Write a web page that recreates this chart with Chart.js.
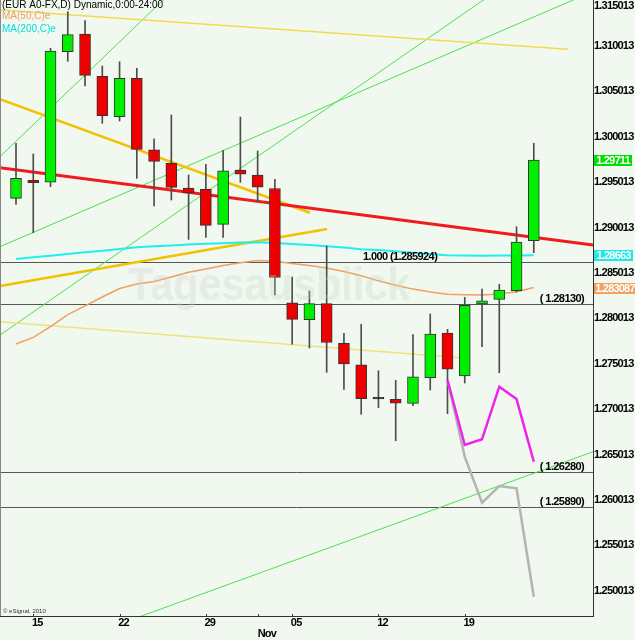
<!DOCTYPE html>
<html>
<head>
<meta charset="utf-8">
<script src="https://cdn.jsdelivr.net/npm/chart.js@4.4.0/dist/chart.umd.min.js"></script>
<style>
  html, body { margin: 0; padding: 0; background: #f0f8f0; }
  #wrap { width: 635px; height: 640px; }
</style>
</head>
<body>
<div id="wrap"><canvas id="chart" width="635" height="640"></canvas></div>
<script>
// EUR daily candles, one per trading day (Oct 14 .. Nov 25)
const opens  = [1.29291, 1.29489, 1.29470, 1.30905, 1.31100, 1.30634, 1.30190, 1.30612, 1.29826, 1.29676,
                1.29404, 1.29390, 1.29004, 1.29603, 1.29547, 1.29399, 1.28141, 1.27954, 1.28132, 1.27694,
                1.27458, 1.27086, 1.27077, 1.27033, 1.27315, 1.27807, 1.27334, 1.28127, 1.28178, 1.28273, 1.28824];
const highs  = [1.29897, 1.29779, 1.30943, 1.31346, 1.31247, 1.30748, 1.30795, 1.30723, 1.29947, 1.30208,
                1.29547, 1.29665, 1.29819, 1.30186, 1.29812, 1.29500, 1.28424, 1.28270, 1.28765, 1.27804,
                1.27903, 1.27392, 1.27286, 1.27789, 1.28017, 1.27848, 1.28201, 1.28292, 1.28344, 1.28978, 1.29897];
const lows   = [1.29225, 1.28912, 1.29419, 1.30800, 1.30528, 1.30117, 1.30142, 1.29511, 1.29206, 1.29272,
                1.28839, 1.28861, 1.28861, 1.29467, 1.29253, 1.28226, 1.27686, 1.27642, 1.27374, 1.27187,
                1.26912, 1.26985, 1.26621, 1.27007, 1.27180, 1.26919, 1.27257, 1.27656, 1.27370, 1.28259, 1.28692];
const closes = [1.29511, 1.29463, 1.30913, 1.31093, 1.30645, 1.30201, 1.30612, 1.29830, 1.29698, 1.29412,
                1.29349, 1.28993, 1.29595, 1.29558, 1.29415, 1.28419, 1.27958, 1.28132, 1.27703, 1.27466,
                1.27084, 1.27082, 1.27036, 1.27326, 1.27796, 1.27408, 1.28112, 1.28163, 1.28281, 1.28810, 1.29711];

const ma50  = [1.27686, 1.27760, 1.27879, 1.28011, 1.28107, 1.28204, 1.28297, 1.28347, 1.28375, 1.28424,
               1.28476, 1.28513, 1.28551, 1.28582, 1.28606, 1.28599, 1.28574, 1.28552, 1.28523, 1.28485,
               1.28438, 1.28382, 1.28333, 1.28291, 1.28258, 1.28234, 1.28228, 1.28226, 1.28237, 1.28262, 1.283087];
const ma200 = [1.28622, 1.28641, 1.28659, 1.28677, 1.28696, 1.28714, 1.28732, 1.28751, 1.28762, 1.28772,
               1.28781, 1.28791, 1.28797, 1.28803, 1.28808, 1.28800, 1.28789, 1.28778, 1.28763, 1.28748,
               1.28731, 1.28721, 1.28707, 1.28691, 1.28675, 1.28664, 1.28660, 1.28658, 1.28660, 1.28661, 1.28663];

// projected paths starting at candle 25
const pathIdx  = [25, 26, 27, 28, 29, 30];
const pathUp   = [1.27290, 1.26574, 1.26637, 1.27216, 1.27080, 1.26390];
const pathDown = [1.27290, 1.26445, 1.25938, 1.26122, 1.26097, 1.24903];

// horizontal levels
const levels = [1.285924, 1.28130, 1.26280, 1.25890];

// trend lines, [candle index, price] end points
const redLine    = [[-0.93, 1.29628], [33.43, 1.28776]];
const goldHigh   = [[-0.93, 1.30384], [17.03, 1.29132]];
const goldLow    = [[-0.93, 1.28325], [18.02, 1.28953]];
const paleTop    = [[-0.93, 1.31365], [31.98, 1.30932]];
const paleLow    = [[-0.93, 1.27932], [25.9, 1.27531]];
const greenSteep = [[-0.93, 1.29749], [9.73, 1.31695]];
const greenMid   = [[-0.93, 1.28758], [33.43, 1.31569]];
const greenLeft  = [[-0.93, 1.27785], [28.75, 1.31695]];
const greenLow   = [[5.04, 1.24536], [33.43, 1.26500]];

// axes
const yTicks = [1.250013, 1.255013, 1.260013, 1.265013, 1.270013, 1.275013, 1.280013,
                1.285013, 1.290013, 1.295013, 1.300013, 1.305013, 1.310013, 1.315013];
const xTicks  = [1, 6, 11, 14.3, 16, 21, 26];
const xLabels = ['15', '22', '29', ['', 'Nov'], '05', '12', '19'];
const xMarks  = [1, 6, 11, 14, 16, 21, 26];
const yMin = 1.24691, yMax = 1.31475;
const xMin = -0.927, xMax = 33.43;

const SANS = '"Liberation Sans", Arial, sans-serif';

const pts = (arr) => arr.map(([x, y]) => ({ x, y }));
const lineDs = (data, color, width, order) => ({
    type: 'line', data, borderColor: color, borderWidth: width,
    pointRadius: 0, fill: false, tension: 0, order
});

const bodyColors = opens.map((o, i) => {
    if (Math.abs(closes[i] - o) < 0.0001) return '#000000';
    return closes[i] > o ? '#00ee00' : '#ee0000';
});

const deco = {
    id: 'deco',
    beforeDraw(chart) {
        const ctx = chart.ctx;
        ctx.save();
        ctx.fillStyle = '#f0f8f0';
        ctx.fillRect(0, 0, chart.width, chart.height);
        ctx.restore();
        // narrow look for the axis labels
        ctx.letterSpacing = '-0.8px';
    },
    beforeDatasetsDraw(chart) {
        const { ctx, chartArea: a, scales: { y } } = chart;
        ctx.save();
        ctx.strokeStyle = '#555';
        ctx.lineWidth = 1;
        levels.forEach(v => {
            const py = Math.round(y.getPixelForValue(v)) + 0.5;
            ctx.beginPath();
            ctx.moveTo(a.left, py);
            ctx.lineTo(a.right, py);
            ctx.stroke();
        });
        ctx.restore();
    },
    afterDatasetsDraw(chart) {
        // watermark
        const ctx = chart.ctx;
        ctx.save();
        ctx.letterSpacing = '0px';
        ctx.translate(128, 300);
        ctx.scale(0.9, 1);
        ctx.font = 'bold 46px ' + SANS;
        ctx.textBaseline = 'alphabetic';
        ctx.fillStyle = 'rgba(206,208,206,0.3)';
        ctx.fillText('Tages', 0, 0);
        const w = ctx.measureText('Tages').width;
        ctx.fillStyle = 'rgba(194,219,189,0.3)';
        ctx.fillText('ausblick', w, 0);
        ctx.restore();
    },
    afterDraw(chart) {
        const { ctx, chartArea: a, scales: { x, y } } = chart;
        ctx.save();

        // frame
        ctx.lineWidth = 1;
        ctx.strokeStyle = '#888';
        ctx.beginPath(); ctx.moveTo(0.5, 0); ctx.lineTo(0.5, a.bottom); ctx.stroke();
        ctx.strokeStyle = '#333';
        ctx.beginPath();
        ctx.moveTo(a.right + 0.5, 0); ctx.lineTo(a.right + 0.5, a.bottom + 1);
        ctx.moveTo(0, a.bottom + 0.5); ctx.lineTo(a.right + 1, a.bottom + 0.5);
        xMarks.forEach(t => {
            const px = Math.round(x.getPixelForValue(t)) + 0.5;
            ctx.moveTo(px, a.bottom - 2); ctx.lineTo(px, a.bottom);
        });
        ctx.stroke();

        // level labels
        ctx.letterSpacing = '-0.6px';
        ctx.fillStyle = '#000';
        ctx.font = 'bold 11px ' + SANS;
        ctx.textBaseline = 'alphabetic';
        ctx.textAlign = 'left';
        ctx.fillText('1.000 (' + levels[0].toFixed(6) + ')', a.left + 363, y.getPixelForValue(levels[0]) - 2);
        ctx.textAlign = 'right';
        levels.slice(1).forEach(v => {
            ctx.fillText('( ' + v.toFixed(5) + ')', a.left + 584, y.getPixelForValue(v) - 2);
        });

        // price tags on the axis
        ctx.letterSpacing = '-0.8px';
        const tag = (val, text, bg, w) => {
            const py = Math.round(y.getPixelForValue(val));
            ctx.fillStyle = bg;
            ctx.fillRect(a.right + 1, py - 5, w, 11);
            ctx.fillStyle = '#fff';
            ctx.textAlign = 'center';
            ctx.textBaseline = 'middle';
            ctx.fillText(text, a.right + 1 + w / 2, py + 1);
        };
        tag(closes[closes.length - 1], closes[closes.length - 1].toFixed(5), '#00e000', 38);
        tag(ma200[ma200.length - 1], ma200[ma200.length - 1].toFixed(5), '#22e8e8', 39);
        tag(ma50[ma50.length - 1], ma50[ma50.length - 1].toFixed(6), '#f0a060', 42);

        // header
        ctx.letterSpacing = '0px';
        ctx.font = '10px ' + SANS;
        ctx.textBaseline = 'middle';
        ctx.textAlign = 'left';
        ctx.fillStyle = '#000';
        ctx.fillText('(EUR A0-FX,D) Dynamic,0:00-24:00', 2, 5);
        ctx.fillStyle = '#f0a060';
        ctx.fillText('MA(50,C)e', 2, 16);
        ctx.fillStyle = '#00e0e0';
        ctx.fillText('MA(200,C)e', 2, 29);

        ctx.font = '6px ' + SANS;
        ctx.fillStyle = '#333';
        ctx.fillText('\u00a9 eSignal, 2010', 3, 611);
        ctx.restore();
    }
};

new Chart(document.getElementById('chart'), {
    type: 'bar',
    data: {
        datasets: [
            lineDs(pathIdx.map((i, k) => ({ x: i, y: pathDown[k] })), '#b4b4b4', 2.5, 1),
            lineDs(pathIdx.map((i, k) => ({ x: i, y: pathUp[k] })), '#ee22ee', 2.5, 0),
            {
                type: 'bar',
                data: opens.map((o, i) => ({ x: i, y: [o, closes[i]] })),
                backgroundColor: bodyColors,
                borderColor: '#333',
                borderWidth: 1,
                borderSkipped: false,
                barPercentage: 1,
                categoryPercentage: 1,
                maxBarThickness: 11,
                minBarLength: 1.5,
                grouped: false,
                order: 2
            },
            {
                type: 'bar',
                data: opens.map((o, i) => ({ x: i, y: [lows[i], highs[i]] })),
                backgroundColor: '#4d4d4d',
                barPercentage: 1,
                categoryPercentage: 1,
                maxBarThickness: 1,
                grouped: false,
                order: 3
            },
            lineDs(ma200.map((v, i) => ({ x: i, y: v })), '#22eeee', 2, 4),
            lineDs(ma50.map((v, i) => ({ x: i, y: v })), '#f0a060', 1.5, 4),
            lineDs(pts(redLine), '#ee1c1c', 3, 5),
            lineDs(pts(goldHigh), '#f2c200', 2.5, 6),
            lineDs(pts(goldLow), '#f2c200', 2.5, 6),
            lineDs(pts(paleTop), '#f3da55', 1.5, 6),
            lineDs(pts(paleLow), '#f0e07a', 1.5, 6),
            lineDs(pts(greenSteep), '#4ee04e', 1, 7),
            lineDs(pts(greenMid), '#4ee04e', 1, 7),
            lineDs(pts(greenLeft), '#4ee04e', 1, 7),
            lineDs(pts(greenLow), '#4ee04e', 1, 7)
        ]
    },
    options: {
        responsive: false,
        devicePixelRatio: 1,
        animation: false,
        events: [],
        layout: { padding: 0 },
        plugins: {
            legend: { display: false },
            tooltip: { enabled: false }
        },
        scales: {
            x: {
                type: 'linear',
                min: xMin,
                max: xMax,
                offset: false,
                grid: { display: false, drawTicks: false },
                border: { display: false },
                afterFit: (s) => { s.height = 24; s.paddingLeft = 0; s.paddingRight = 0; },
                afterBuildTicks: (s) => { s.ticks = xTicks.map(v => ({ value: v })); },
                ticks: {
                    autoSkip: false,
                    maxRotation: 0,
                    padding: 1,
                    labelOffset: 4,
                    color: '#000',
                    font: { family: SANS, size: 11, weight: 'bold', lineHeight: 1 },
                    callback: (v, i) => xLabels[i]
                }
            },
            y: {
                position: 'right',
                min: yMin,
                max: yMax,
                grid: { display: false, drawTicks: false },
                border: { display: false },
                afterFit: (s) => { s.width = 42; s.paddingTop = 0; s.paddingBottom = 0; },
                afterBuildTicks: (s) => { s.ticks = yTicks.map(v => ({ value: v })); },
                ticks: {
                    autoSkip: false,
                    padding: 1,
                    labelOffset: 3,
                    color: '#000',
                    font: { family: SANS, size: 11, weight: 'bold', lineHeight: 1 },
                    callback: (v) => v > yMax ? ['', v.toFixed(6)] : v.toFixed(6)
                }
            }
        }
    },
    plugins: [deco]
});
</script>
</body>
</html>
